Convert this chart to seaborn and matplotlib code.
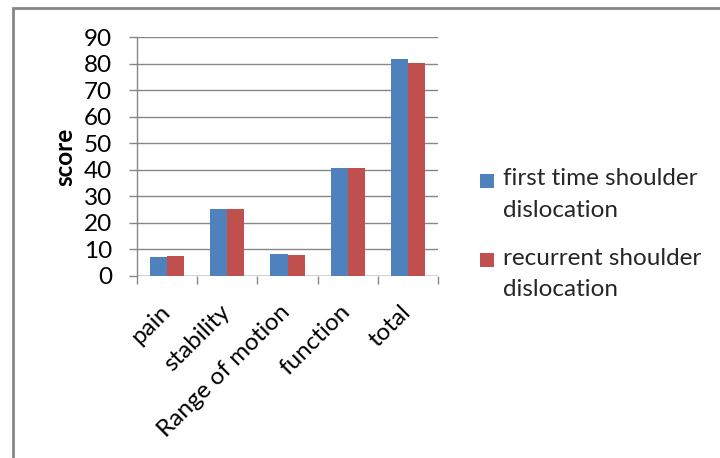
import matplotlib
matplotlib.use("Agg")
import matplotlib.pyplot as plt
import matplotlib.transforms as mtransforms
import seaborn as sns
import pandas as pd
from matplotlib.patches import Rectangle
from matplotlib.legend_handler import HandlerPatch

categories = ["pain", "stability", "Range of motion", "function", "total"]
first_time = [7.3, 25.3, 8.3, 40.9, 81.7]
recurrent = [7.7, 25.3, 7.8, 40.9, 80.2]
series_names = ["first time shoulder\ndislocation", "recurrent shoulder\ndislocation"]
y_ticks = [0, 10, 20, 30, 40, 50, 60, 70, 80, 90]

df = pd.DataFrame({
    "category": categories * 2,
    "score": first_time + recurrent,
    "series": [series_names[0]] * len(categories) + [series_names[1]] * len(categories),
})

sns.set_theme(style="white")
plt.rcParams["font.family"] = ["Lato", "DejaVu Sans"]
FS = 17.5

fig = plt.figure(figsize=(7.2, 4.58), dpi=100)
ax = fig.add_axes([137 / 720, 1 - 276 / 458, 301 / 720, (276 - 37.3) / 458])

grid_c = "#878787"
sns.barplot(data=df, x="category", y="score", hue="series", order=categories,
            hue_order=series_names, palette=["#4F81BD", "#C0504D"],
            width=0.57, gap=0, saturation=1, ax=ax, legend=True,
            edgecolor="none", linewidth=0)

ax.set_ylim(0, 90)
ax.set_xlim(-0.5, len(categories) - 0.5)
ax.set_yticks(y_ticks)
ax.yaxis.grid(True, color=grid_c, linewidth=1.0)
ax.set_axisbelow(True)
for s in ["top", "right", "bottom"]:
    ax.spines[s].set_visible(False)
ax.spines["left"].set_color(grid_c)
ax.spines["left"].set_linewidth(1.0)
ax.tick_params(axis="y", which="both", left=True, length=6, width=1.0, color=grid_c,
               labelsize=FS, pad=12, labelcolor="black")
ax.set_xticks(range(len(categories)))
ax.set_xticklabels(categories, rotation=45, ha="right", va="top", rotation_mode="anchor",
                   fontsize=FS, color="black")
ax.tick_params(axis="x", bottom=False, pad=12)
shift = mtransforms.ScaledTranslation(-8 / 100, 0, fig.dpi_scale_trans)
for lbl in ax.get_xticklabels():
    lbl.set_transform(lbl.get_transform() + shift)
ax.set_xticks([i - 0.5 for i in range(len(categories) + 1)], minor=True)
ax.tick_params(axis="x", which="minor", bottom=True, length=6, width=1.0, color=grid_c)
ax.axhline(0, color=grid_c, linewidth=1.0, zorder=0.5)
ax.set_xlabel("")
ax.set_ylabel("score", fontsize=FS, fontweight="bold", labelpad=5, color="black")


def top_square(legend, orig_handle, xdescent, ydescent, width, height, fontsize):
    sq = 14 * 72 / 100
    return Rectangle((-xdescent, -ydescent + height - sq + 1), sq, sq)


handles, labels = ax.get_legend_handles_labels()
ax.get_legend().remove()
leg = fig.legend(handles, labels, loc="upper left", bbox_to_anchor=(480 / 720, 1 - 168 / 458),
                 frameon=False, fontsize=FS, handlelength=0.6, handleheight=2.2,
                 handletextpad=0.35, labelspacing=1.1, borderpad=0, borderaxespad=0,
                 handler_map={Rectangle: HandlerPatch(patch_func=top_square)})
for t in leg.get_texts():
    t.set_linespacing(1.64)

fig.patches.append(Rectangle((12.5 / 720, -0.1), 1.2, (1 - 7.5 / 458) + 0.1, transform=fig.transFigure,
                             fill=False, edgecolor="#878787", linewidth=2.0))

fig.savefig("out.png", dpi=100, facecolor="white")
